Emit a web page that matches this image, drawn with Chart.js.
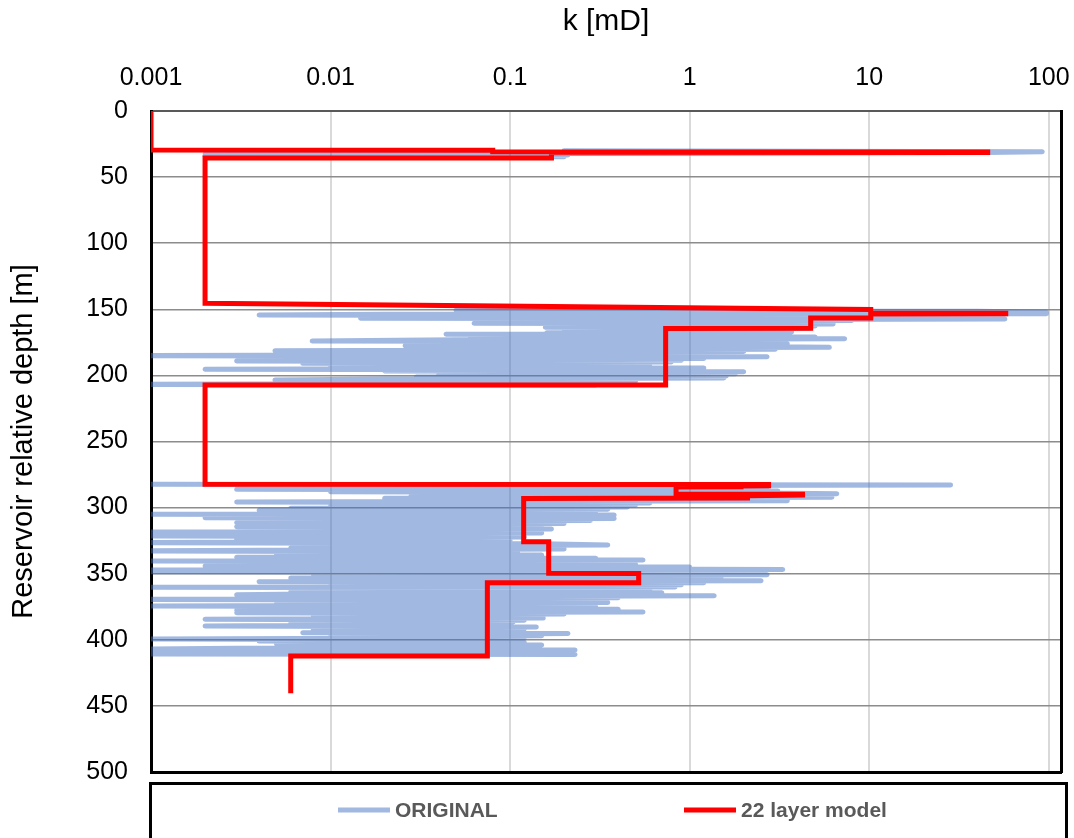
<!DOCTYPE html>
<html>
<head>
<meta charset="utf-8">
<script src="https://cdn.jsdelivr.net/npm/chart.js@4.4.0/dist/chart.umd.min.js"></script>
<style>
  html, body { margin: 0; padding: 0; background: #ffffff; }
  #wrap { width: 1074px; height: 838px; position: relative; }
</style>
</head>
<body>
<div id="wrap"><canvas id="chart" width="1074" height="838"></canvas></div>
<script>
// Axis ticks
const kTicks = [0.001, 0.01, 0.1, 1, 10, 100];
const kTickLabels = ['0.001', '0.01', '0.1', '1', '10', '100'];
const depthTicks = [0, 50, 100, 150, 200, 250, 300, 350, 400, 450, 500];

// ORIGINAL permeability log: depth [m] and k [mD]; null k marks non-reservoir intervals
const originalDepth = [
  30.0, 30.8, 31.3, 31.9, 32.6, 33.3, 34.0, 34.6,
  90,
  149.8, 150.3, 150.8, 151.5, 152.2, 152.8, 153.3, 153.8, 154.3, 155.0,
  155.6, 156.2, 156.8, 157.3, 157.9, 158.5, 159.2, 159.8, 160.6, 161.2,
  162.0, 162.7, 163.6, 164.3, 165.0, 165.7, 166.4, 167.1, 167.8, 168.5,
  168.9, 169.6, 170.3, 171.0, 171.7, 172.3, 173.0, 173.9, 174.6, 175.3,
  176.0, 176.7, 177.5, 178.2, 178.8, 179.5, 180.3, 181.3, 182.0, 182.7,
  183.3, 184.0, 184.5, 185.1, 185.9, 186.6, 187.3, 188.0, 188.6, 189.1,
  189.9, 190.5, 190.9, 191.6, 192.3, 193.0, 193.7, 194.4, 195.4, 196.0,
  196.6, 197.2, 198.0, 198.8, 199.6, 200.4, 201.2, 202.0, 202.8, 203.5,
  204.3, 205.0, 205.7, 206.8, 207.3,
  245,
  282.4, 282.9, 283.6, 284.5, 285.3, 286.2, 286.8, 287.4, 288.1, 288.8,
  289.5, 290.3, 291.1, 291.6, 292.2, 293.0, 293.8, 294.4, 294.9, 295.8,
  296.5, 297.2, 298.0, 298.8, 299.6, 300.4, 301.2, 302.0, 302.8, 303.6,
  304.4, 305.0, 305.6, 306.5, 307.2, 307.6, 308.3, 309.0, 309.8, 310.6,
  311.4, 312.0, 312.6, 313.3, 314.0, 314.4, 315.0, 315.6, 316.2, 317.0,
  317.8, 318.5, 319.2, 320.0, 320.8, 321.5, 322.3, 323.2, 324.0, 324.8,
  325.6, 326.5, 327.3, 328.3, 329.0, 329.8, 330.6, 331.4, 332.2, 332.8,
  333.5, 334.3, 335.0, 335.8, 336.7, 337.5, 338.3, 339.0, 339.7, 340.4,
  341.2, 342.0, 342.8, 343.5, 344.2, 345.0, 345.8, 346.8, 347.2, 348.0,
  348.5, 349.3, 350.0, 350.8, 351.6, 352.4, 353.2, 354.0, 354.8, 355.4,
  356.0, 356.8, 357.6, 358.4, 359.2, 360.0, 360.3, 361.0, 361.8, 362.6,
  363.6, 364.4, 365.2, 366.0, 366.6, 367.4, 368.2, 369.4, 370.2, 371.0,
  371.8, 372.6, 373.4, 374.4, 375.2, 376.0, 376.8, 377.6, 378.4, 379.0,
  379.6, 380.4, 381.2, 382.0, 382.8, 383.6, 384.5, 385.3, 386.0, 386.6,
  387.4, 388.2, 389.0, 389.6, 390.3, 391.1, 391.9, 392.7, 393.5, 394.6,
  395.3, 396.1, 396.9, 397.7, 398.5, 399.4, 400.2, 401.0, 401.8, 402.6,
  403.2, 404.0, 404.8, 405.6, 406.4, 407.2, 407.8, 408.6, 409.4, 410.2,
  410.7, 411.2
];
const originalK = [
  0.2, 92, 45, 0.93, 0.002, 0.21, 0.002, 0.2,
  null,
  0.6, 10, 0.05, 40, 97, 0.3, 97, 0.02, 0.004, 3,
  1.5, 0.03, 0.0147, 57, 1, 8.0, 0.3, 3, 0.063, 6.3,
  0.3, 5, 0.157, 4.7, 0.25, 3.7, 0.2, 3.7, 0.16, 2,
  0.044, 1.5, 0.06, 5, 0.1, 7.3, 0.05, 0.0079, 2.5, 0.03,
  3.5, 0.1, 0.026, 2, 6.0, 0.05, 3, 0.0049, 2, 0.02,
  1.9, 0.05, 0.02, 0.0007, 2.7, 0.03, 1.2, 0.01, 0.9, 0.003,
  0.79, 0.02, 0.007, 0.6, 0.03, 0.5, 0.01, 1.2, 0.002, 0.8,
  0.02, 2.0, 0.05, 1.8, 0.04, 1.6, 0.03, 1.55, 0.02, 0.0049,
  0.5, 0.05, 0.4, 0.0007, 0.3,
  null,
  0.0007, 28.4, 0.03, 2.7, 0.02, 0.003, 1.5, 3.1, 0.01, 2.0,
  6.6, 0.03, 4.0, 0.028, 6.2, 0.02, 1.5, 0.02, 3.5, 0.003,
  0.6, 0.03, 0.5, 0.01, 0.45, 0.006, 0.35, 0.004, 0.25, 0.01,
  0.3, 0.0007, 0.38, 0.005, 0.3, 0.002, 0.38, 0.01, 0.28, 0.005,
  0.003, 0.2, 0.02, 0.13, 0.01, 0.003, 0.15, 0.02, 0.17, 0.008,
  0.13, 0.0007, 0.15, 0.006, 0.12, 0.0007, 0.12, 0.005, 0.003, 0.1,
  0.01, 0.0007, 0.15, 0.35, 0.01, 0.2, 0.006, 0.2, 0.004, 0.0007,
  0.11, 0.01, 0.005, 0.15, 0.12, 0.003, 0.3, 0.005, 0.55, 0.0007,
  0.3, 0.004, 0.5, 0.006, 0.002, 1.0, 0.01, 3.3, 0.0007, 1.2,
  0.0007, 2.0, 0.008, 2.7, 0.01, 1.5, 0.006, 1.0, 0.02, 2.5,
  0.004, 1.2, 0.02, 0.9, 0.01, 0.83, 0.0007, 0.5, 0.02, 0.6,
  0.006, 0.7, 0.01, 0.003, 1.37, 0.02, 0.4, 0.0007, 0.3, 0.01,
  0.35, 0.005, 0.25, 0.0007, 0.3, 0.01, 0.4, 0.003, 0.2, 0.55,
  0.003, 0.2, 0.01, 0.15, 0.008, 0.153, 0.002, 0.12, 0.01, 0.104,
  0.006, 0.1, 0.01, 0.002, 0.14, 0.02, 0.12, 0.008, 0.1, 0.007,
  0.21, 0.02, 0.15, 0.01, 0.12, 0.0007, 0.1, 0.004, 0.12, 0.02,
  0.005, 0.15, 0.01, 0.1, 0.003, 0.0007, 0.23, 0.01, 0.2, 0.002,
  0.0007, 0.23
];

// 22 layer model: stepped profile, depth [m] and k [mD]
const modelDepth = [
  0, 29.5, 29.6, 30.8, 31.0, 31.4, 31.6, 35.5, 35.6, 145.5,
  150.2, 152.8, 153.0, 153.4, 153.6, 156.5, 156.6, 164.4, 164.5, 207.3,
  207.3, 282.4, 282.6, 283.4, 283.6, 284.2, 284.4, 289.8, 289.9, 290.5,
  291.0, 292.8, 293.1, 325.8, 325.9, 349.7, 349.8, 356.8, 356.9, 412.2,
  412.3, 440.5
];
const modelK = [
  0.001, 0.001, 0.08, 0.08, 45.7, 45.7, 0.17, 0.17, 0.002, 0.002,
  10.2, 10.2, 57.6, 57.6, 10.2, 10.2, 4.72, 4.72, 0.735, 0.735,
  0.002, 0.002, 2.75, 2.75, 1.93, 1.93, 0.84, 0.84, 4.25, 4.25,
  2.1, 2.1, 0.119, 0.119, 0.164, 0.164, 0.52, 0.52, 0.0747, 0.0747,
  0.006, 0.006
];

const toPoints = (ks, ds) => ds.map((d, i) => ({ x: ks[i], y: d }));

const FONT = "'Liberation Sans', Arial, sans-serif";

// Framed legend drawn under the plot area
const framedLegend = {
  id: 'framedLegend',
  afterDraw(chart) {
    const { ctx, chartArea } = chart;
    const top = chartArea.bottom + 11;
    ctx.save();
    ctx.strokeStyle = '#000000';
    ctx.lineWidth = 3;
    ctx.strokeRect(chartArea.left - 0.5, top + 0.5, chartArea.right - chartArea.left + 6, 64);
    const itemX = [338, 684];
    const y = top + 27;
    ctx.font = 'bold 21px ' + FONT;
    ctx.textBaseline = 'middle';
    ctx.textAlign = 'left';
    chart.data.datasets.forEach((ds, i) => {
      ctx.strokeStyle = ds.borderColor;
      ctx.lineWidth = 5;
      ctx.lineCap = 'butt';
      ctx.beginPath();
      ctx.moveTo(itemX[i], y);
      ctx.lineTo(itemX[i] + 52, y);
      ctx.stroke();
      ctx.fillStyle = '#595959';
      ctx.fillText(ds.label, itemX[i] + 57, y + 1);
    });
    ctx.restore();
  }
};

new Chart(document.getElementById('chart'), {
  type: 'scatter',
  data: {
    datasets: [
      {
        label: 'ORIGINAL',
        data: toPoints(originalK, originalDepth),
        showLine: true,
        borderColor: 'rgba(68,114,196,0.5)',
        borderWidth: 5,
        borderCapStyle: 'round',
        borderJoinStyle: 'round',
        pointRadius: 0,
        tension: 0,
        spanGaps: false,
        order: 2
      },
      {
        label: '22 layer model',
        data: toPoints(modelK, modelDepth),
        showLine: true,
        borderColor: '#ff0000',
        borderWidth: 5,
        borderCapStyle: 'butt',
        borderJoinStyle: 'miter',
        pointRadius: 0,
        tension: 0,
        order: 1
      }
    ]
  },
  options: {
    responsive: false,
    animation: false,
    devicePixelRatio: 1,
    layout: { padding: 0 },
    plugins: {
      legend: { display: false },
      tooltip: { enabled: false }
    },
    scales: {
      x: {
        type: 'logarithmic',
        position: 'top',
        min: 0.001,
        max: 117,
        afterBuildTicks: (s) => { s.ticks = kTicks.map(v => ({ value: v })); },
        afterFit: (s) => { s.height = 111; s.paddingLeft = 0; s.paddingRight = 0; },
        ticks: {
          autoSkip: false,
          maxRotation: 0,
          padding: 18,
          color: '#000000',
          font: { family: FONT, size: 25 },
          callback: (v, i) => kTickLabels[i]
        },
        grid: { color: '#d9d9d9', lineWidth: 2, drawTicks: false },
        border: { display: true, color: '#595959', width: 2 },
        title: {
          display: true,
          text: 'k [mD]',
          color: '#000000',
          font: { family: FONT, size: 30 },
          padding: { top: 4, bottom: 0 }
        }
      },
      y: {
        type: 'linear',
        position: 'left',
        reverse: true,
        min: 0,
        max: 500,
        afterBuildTicks: (s) => { s.ticks = depthTicks.map(v => ({ value: v })); },
        afterFit: (s) => { s.width = 151; s.paddingTop = 0; s.paddingBottom = 0; },
        ticks: {
          padding: 23,
          color: '#000000',
          font: { family: FONT, size: 25 }
        },
        grid: { color: '#8c8c8c', lineWidth: 1.5, drawTicks: false },
        border: { display: true, color: '#000000', width: 3 },
        title: {
          display: true,
          text: 'Reservoir relative depth [m]',
          color: '#000000',
          font: { family: FONT, size: 29 },
          padding: { top: 7, bottom: 0 }
        }
      },
      yFrame: {
        type: 'linear',
        axis: 'y',
        position: 'right',
        afterFit: (s) => { s.width = 13; s.paddingTop = 0; s.paddingBottom = 0; },
        ticks: { display: false },
        grid: { display: false, drawTicks: false },
        border: { display: true, color: '#000000', width: 3 }
      },
      xFrame: {
        type: 'linear',
        axis: 'x',
        position: 'bottom',
        afterFit: (s) => { s.height = 66; s.paddingLeft = 0; s.paddingRight = 0; },
        ticks: { display: false },
        grid: { display: false, drawTicks: false },
        border: { display: true, color: '#000000', width: 3 }
      }
    }
  },
  plugins: [framedLegend]
});
</script>
</body>
</html>
